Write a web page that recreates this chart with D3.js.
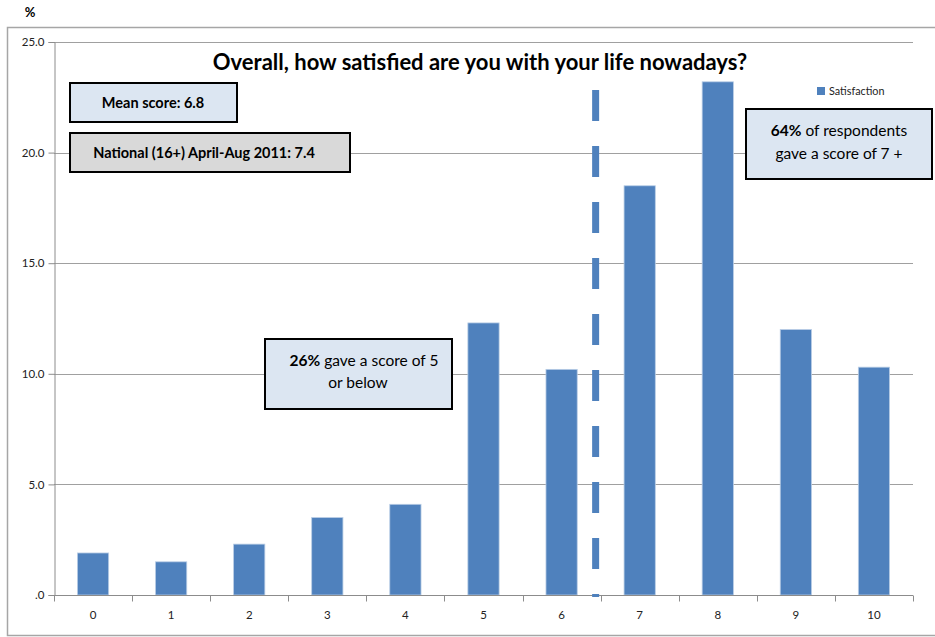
<!DOCTYPE html>
<html>
<head>
<meta charset="utf-8">
<script src="https://cdn.jsdelivr.net/npm/d3@7"></script>
<style>
  body { margin: 0; background: #fff; }
  svg { font-family: Lato, "Open Sans", sans-serif; }
</style>
</head>
<body>
<svg id="chart" width="935" height="637"></svg>
<script>
// data
var SCORES = ["0", "1", "2", "3", "4", "5", "6", "7", "8", "9", "10"];
var SATISFACTION = [1.9, 1.5, 2.3, 3.5, 4.1, 12.3, 10.2, 18.5, 23.2, 12.0, 10.3];
var YTICKS = [0, 5, 10, 15, 20, 25];
var SERIES_NAME = "Satisfaction";
var TITLE = "Overall, how satisfied are you with your life nowadays?";
var MEAN_TEXT = "Mean score: 6.8";
var NATIONAL_TEXT = "National (16+) April-Aug 2011: 7.4";
var SPLIT_AT = 6.5; // dashed divider between 6 and 7

var W = 935, H = 637;
var BLUE = "#4F81BD";

var svg = d3.select("#chart");

// outer chart frame (open on the right like the source)
svg.append("path")
   .attr("d", "M" + (W + 2) + ",27.5 H7.5 V635.5 H" + (W + 2))
   .attr("fill", "none")
   .attr("stroke", "#A6A6A6")
   .attr("stroke-width", 1.5);

svg.append("text")
   .attr("x", 30).attr("y", 17)
   .attr("text-anchor", "middle")
   .attr("font-weight", "bold")
   .attr("font-size", 13)
   .text("%");

var x = d3.scaleBand()
          .domain(SCORES)
          .range([54, 913])
          .paddingInner(0.6)
          .paddingOuter(0.3);

var xEdge = d3.scaleLinear()
              .domain([0, SCORES.length])
              .range([54, 913]);

var y = d3.scaleLinear()
          .domain([0, 25])
          .range([595, 42]);

// gridlines
svg.append("g")
   .selectAll("line")
   .data(YTICKS.filter(function(d){ return d > 0; }))
   .join("line")
   .attr("x1", 54).attr("x2", 913)
   .attr("y1", function(d){ return Math.round(y(d)) + 0.5; })
   .attr("y2", function(d){ return Math.round(y(d)) + 0.5; })
   .attr("stroke", "#A0A0A0")
   .attr("stroke-width", 1);

// y axis
var yAxis = d3.axisLeft(y)
              .tickValues(YTICKS)
              .tickSize(6)
              .tickPadding(4)
              .tickFormat(function(d){ return d === 0 ? ".0" : d3.format(".1f")(d); });
var gy = svg.append("g")
            .attr("transform", "translate(54.5,0)")
            .call(yAxis);
gy.select(".domain").attr("stroke", "#8C8C8C");
gy.selectAll(".tick line").attr("stroke", "#8C8C8C");
gy.selectAll(".tick text").attr("font-size", 11.5).attr("fill", "#222")
  .attr("font-family", "Lato, 'Open Sans', sans-serif");

// bars
svg.append("g")
   .selectAll("rect")
   .data(SATISFACTION)
   .join("rect")
   .attr("x", function(d, i){ return x(SCORES[i]); })
   .attr("width", x.bandwidth())
   .attr("y", function(d){ return y(d); })
   .attr("height", function(d){ return y(0) - y(d); })
   .attr("fill", BLUE)
   .attr("stroke", "#B9CDE5")
   .attr("stroke-width", 0.8);

// x axis
var gx = svg.append("g")
            .attr("transform", "translate(0,595.5)");
gx.append("line")
  .attr("x1", 54).attr("x2", 913)
  .attr("stroke", "#8C8C8C");
gx.selectAll("line.tk")
  .data(d3.range(SCORES.length + 1))
  .join("line")
  .attr("class", "tk")
  .attr("x1", function(d){ return Math.round(xEdge(d)) + 0.5; })
  .attr("x2", function(d){ return Math.round(xEdge(d)) + 0.5; })
  .attr("y1", 0).attr("y2", 6)
  .attr("stroke", "#8C8C8C");
gx.selectAll("text")
  .data(SCORES)
  .join("text")
  .attr("x", function(d){ return x(d) + x.bandwidth() / 2; })
  .attr("y", 23)
  .attr("text-anchor", "middle")
  .attr("font-size", 11.5)
  .attr("fill", "#222")
  .text(function(d){ return d; });

// dashed divider
var splitX = xEdge(SPLIT_AT + 0.5) - 5;
svg.append("line")
   .attr("x1", splitX).attr("x2", splitX)
   .attr("y1", 90).attr("y2", 597)
   .attr("stroke", BLUE)
   .attr("stroke-width", 7)
   .attr("stroke-dasharray", "31,25");

// title
svg.append("text")
   .attr("x", 480).attr("y", 70)
   .attr("text-anchor", "middle")
   .attr("font-weight", "bold")
   .attr("font-size", 22)
   .attr("fill", "#000")
   .text(TITLE);

// legend
svg.append("rect")
   .attr("x", 817).attr("y", 87)
   .attr("width", 8).attr("height", 8)
   .attr("fill", BLUE);
svg.append("text")
   .attr("x", 829).attr("y", 95)
   .attr("font-size", 10.8)
   .attr("fill", "#222")
   .text(SERIES_NAME);

// annotation boxes
function box(x0, y0, w, h, fill){
  svg.append("rect")
     .attr("x", x0).attr("y", y0)
     .attr("width", w).attr("height", h)
     .attr("fill", fill)
     .attr("stroke", "#000")
     .attr("stroke-width", 2);
}

box(70, 83, 167, 39, "#DCE6F2");
svg.append("text")
   .attr("x", 153).attr("y", 108)
   .attr("text-anchor", "middle")
   .attr("font-weight", "bold").attr("font-size", 14.5)
   .text(MEAN_TEXT);

box(70, 133, 280, 39, "#D9D9D9");
svg.append("text")
   .attr("x", 204).attr("y", 158)
   .attr("text-anchor", "middle")
   .attr("font-weight", "bold").attr("font-size", 14.5)
   .text(NATIONAL_TEXT);

box(746, 109, 186, 70, "#DCE6F2");
var t1 = svg.append("text")
   .attr("x", 839).attr("y", 136)
   .attr("text-anchor", "middle")
   .attr("font-size", 15.5);
t1.append("tspan").attr("font-weight", "bold").text("64%");
t1.append("tspan").text(" of respondents");
svg.append("text")
   .attr("x", 839).attr("y", 159)
   .attr("text-anchor", "middle")
   .attr("font-size", 15.5)
   .text("gave a score of 7 +");

box(265, 339, 187, 70, "#DCE6F2");
var t2 = svg.append("text")
   .attr("x", 364).attr("y", 366)
   .attr("text-anchor", "middle")
   .attr("font-size", 15.5);
t2.append("tspan").attr("font-weight", "bold").text("26%");
t2.append("tspan").text(" gave a score of 5");
svg.append("text")
   .attr("x", 358).attr("y", 388)
   .attr("text-anchor", "middle")
   .attr("font-size", 15.5)
   .text("or below");
</script>
</body>
</html>
